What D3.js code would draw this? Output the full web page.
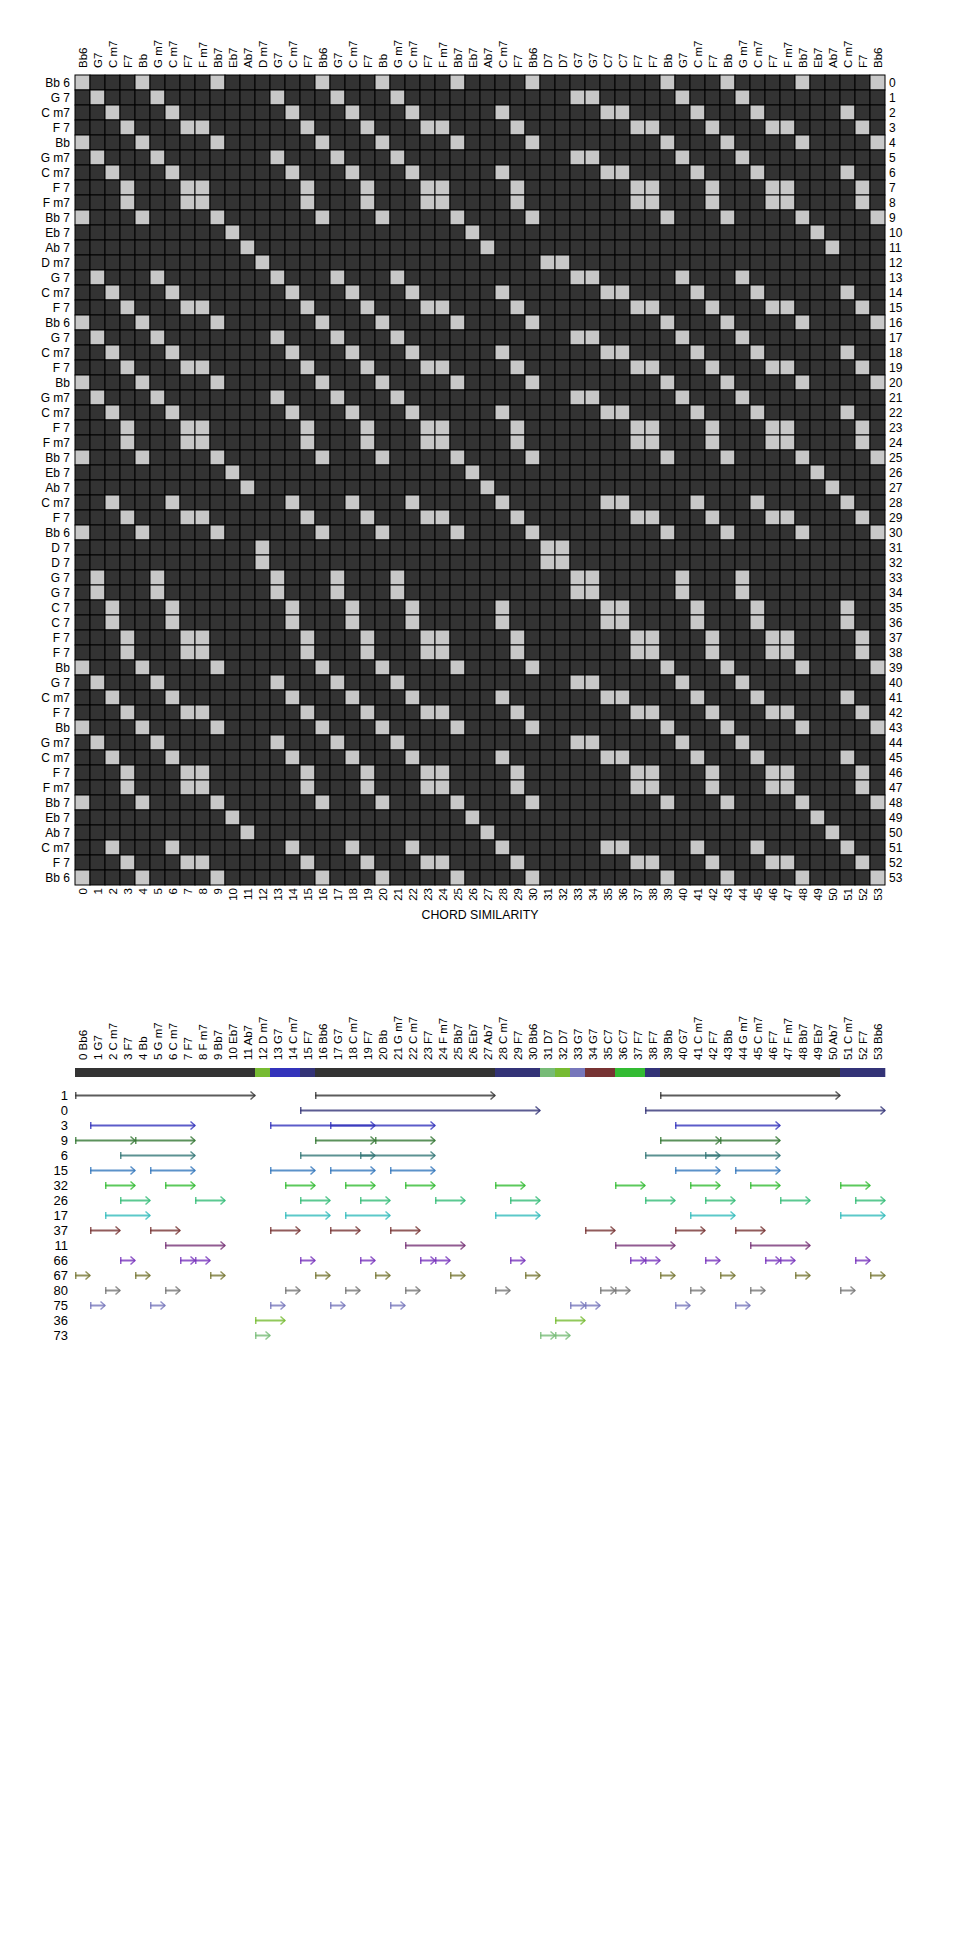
<!DOCTYPE html>
<html><head><meta charset="utf-8">
<script src="https://cdn.jsdelivr.net/npm/d3@7"></script>
<style>
html,body{margin:0;padding:0;background:#fff;}
text{font-family:"Liberation Sans",Arial,sans-serif;fill:#000;}
</style></head>
<body><div id="chart"></div>
<script>
// ---- data ----
const chordRoots = ["Bb","G","C","F","Bb","G","C","F","F","Bb","Eb","Ab","D","G","C","F","Bb","G","C","F","Bb","G","C","F","F","Bb","Eb","Ab","C","F","Bb","D","D","G","G","C","C","F","F","Bb","G","C","F","Bb","G","C","F","F","Bb","Eb","Ab","C","F","Bb"];
const chordTypes = ["6","7","m7","7","","m7","m7","7","m7","7","7","7","m7","7","m7","7","6","7","m7","7","","m7","m7","7","m7","7","7","7","m7","7","6","7","7","7","7","7","7","7","7","","7","m7","7","","m7","m7","7","m7","7","7","7","m7","7","6"];

const patternLabels = ["1","0","3","9","6","15","32","26","17","37","11","66","67","80","75","36","73"];
const patternColors = ["#333333","#333377","#3333bb","#337733","#337777","#3377bb","#33bb33","#33bb77","#33bbbb","#773333","#773377","#7733bb","#777733","#777777","#7777bb","#77bb33","#77bb77"];
const patternLengths = [12,16,7,4,5,3,2,2,3,2,4,1,1,1,1,2,1];
const patternStarts = [
  [0,16,39],
  [15,38],
  [1,13,17,40],
  [0,4,16,20,39,43],
  [3,15,19,38,42],
  [1,5,13,17,21,40,44],
  [2,6,14,18,22,28,36,41,45,51],
  [3,8,15,19,24,29,38,42,47,52],
  [2,14,18,28,41,51],
  [1,5,13,17,21,34,40,44],
  [6,22,36,45],
  [3,7,8,15,19,23,24,29,37,38,42,46,47,52],
  [0,4,9,16,20,25,30,39,43,48,53],
  [2,6,14,18,22,28,35,36,41,45,51],
  [1,5,13,17,21,33,34,40,44],
  [12,32],
  [12,31,32]
];
const barPattern = ["1","1","1","1","1","1","1","1","1","1","1","1","36","3","3","0",
  "1","1","1","1","1","1","1","1","1","1","1","1","0","0","0","73","36","75","37","37","32","32","0",
  "1","1","1","1","1","1","1","1","1","1","1","1","0","0","0"];
const axisTitle = "CHORD SIMILARITY";

// ---- drawing ----
const W = 960, H = 1940;
const svg = d3.select("#chart").append("svg").attr("width", W).attr("height", H);
svg.append("rect").attr("width", W).attr("height", H).attr("fill", "#fff");

const n = chordRoots.length;
const idx = d3.range(n);
const x = d3.scaleBand().domain(idx).range([75, 885]);
const y = d3.scaleBand().domain(idx).range([75, 885]);
const xl = d3.scaleLinear().domain([0, n]).range([75, 885]);
const colLabel = i => chordRoots[i] + (chordTypes[i] === "m7" ? " m7" : chordTypes[i]);
const rowLabel = i => chordRoots[i] + (chordTypes[i] ? " " + chordTypes[i] : "");

const cells = [];
idx.forEach(i => idx.forEach(j => cells.push({i, j, same: chordRoots[i] === chordRoots[j]})));
svg.append("g").selectAll("rect").data(cells).join("rect")
  .attr("x", d => x(d.j)).attr("y", d => y(d.i))
  .attr("width", x.bandwidth()).attr("height", y.bandwidth())
  .attr("fill", d => d.same ? "#c8c8c8" : "#333333")
  .attr("stroke", "#000").attr("stroke-width", 1);

// top labels
svg.append("g").selectAll("text").data(idx).join("text")
  .attr("transform", d => `translate(${x(d) + x.bandwidth()/2 + 4},68) rotate(-90)`)
  .attr("font-size", 11.5).text(colLabel);
// left labels
svg.append("g").selectAll("text").data(idx).join("text")
  .attr("x", 70).attr("y", d => y(d) + y.bandwidth()/2).attr("dy", "0.36em")
  .attr("text-anchor", "end").attr("font-size", 12).text(rowLabel);
// right labels
svg.append("g").selectAll("text").data(idx).join("text")
  .attr("x", 889).attr("y", d => y(d) + y.bandwidth()/2).attr("dy", "0.36em")
  .attr("font-size", 12).text(d => d);
// bottom labels
svg.append("g").selectAll("text").data(idx).join("text")
  .attr("transform", d => `translate(${x(d) + x.bandwidth()/2 + 4},888) rotate(-90)`)
  .attr("text-anchor", "end").attr("font-size", 11.5).text(d => d);
svg.append("text").attr("x", 480).attr("y", 919).attr("text-anchor", "middle")
  .attr("font-size", 12.3).text(axisTitle);

// ---- second chart ----
svg.append("g").selectAll("text").data(idx).join("text")
  .attr("transform", d => `translate(${x(d) + x.bandwidth()/2 + 4},1060) rotate(-90)`)
  .attr("font-size", 11.5).text(d => d + " " + colLabel(d));

const colorOf = d3.scaleOrdinal().domain(patternLabels).range(patternColors);
svg.append("g").selectAll("rect").data(idx).join("rect")
  .attr("x", d => xl(d)).attr("y", 1068).attr("width", xl(1) - xl(0) + 0.3).attr("height", 9)
  .attr("fill", d => colorOf(barPattern[d]));

const yr = d3.scaleBand().domain(patternLabels).range([1088, 1343]);
svg.append("g").selectAll("text").data(patternLabels).join("text")
  .attr("x", 68).attr("y", d => yr(d) + yr.bandwidth()/2).attr("dy", "0.36em")
  .attr("text-anchor", "end").attr("font-size", 13).text(d => d);

const segs = [];
patternLabels.forEach((p, k) => patternStarts[k].forEach(s => segs.push({p, s, e: s + patternLengths[k], c: patternColors[k]})));
const g2 = svg.append("g").attr("fill", "none").attr("stroke-width", 2).attr("stroke-opacity", 0.8);
const sg = g2.selectAll("g").data(segs).join("g").attr("stroke", d => d.c);
sg.append("line").attr("x1", d => xl(d.s)).attr("x2", d => xl(d.e))
  .attr("y1", d => yr(d.p) + yr.bandwidth()/2).attr("y2", d => yr(d.p) + yr.bandwidth()/2);
sg.append("line").attr("stroke-width", 1.5)
  .attr("x1", d => xl(d.s) + 0.75).attr("x2", d => xl(d.s) + 0.75)
  .attr("y1", d => yr(d.p) + yr.bandwidth()/2 - 3.5).attr("y2", d => yr(d.p) + yr.bandwidth()/2 + 3.5);
sg.append("polyline").attr("stroke-width", 1.5)
  .attr("points", d => { const xe = xl(d.e), yc = yr(d.p) + yr.bandwidth()/2;
    return `${xe-4.5},${yc-4} ${xe},${yc} ${xe-4.5},${yc+4}`; });
</script></body></html>
